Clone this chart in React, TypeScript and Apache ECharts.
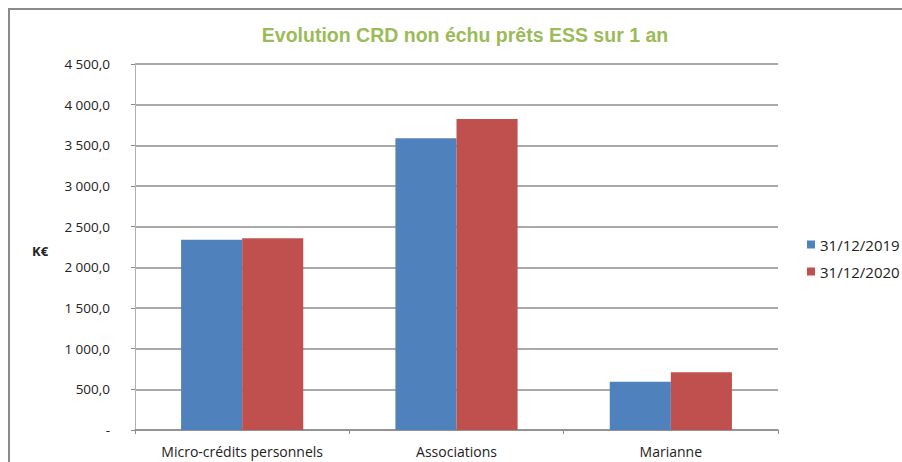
import React, { useEffect, useRef } from "react";
import * as echarts from "echarts";

const categories = ["Micro-crédits personnels", "Associations", "Marianne"];
const seriesNames = ["31/12/2019", "31/12/2020"];
const values2019 = [2340, 3588, 592];
const values2020 = [2358, 3824, 711];
const titleText = "Evolution CRD non échu prêts ESS sur 1 an";
const unitLabel = "K€";

function fmt(v: number): string {
  if (v === 0) return "-";
  const s = v.toFixed(1).replace(".", ",");
  const [i, d] = s.split(",");
  const withSp = i.replace(/\B(?=(\d{3})+(?!\d))/g, " ");
  return withSp + "," + d;
}

export default function App() {
  const ref = useRef<HTMLDivElement>(null);
  useEffect(() => {
    if (!ref.current) return;
    const chart = echarts.init(ref.current, undefined, { renderer: "svg" });
    const font = "'Open Sans', 'Liberation Sans', sans-serif";
    chart.setOption({
      animation: false,
      backgroundColor: "#ffffff",
      title: {
        text: titleText,
        left: 460,
        top: 20,
        textAlign: "center",
        textStyle: {
          color: "#9BBB59",
          fontSize: 19.5,
          fontWeight: "bold",
          fontFamily: "'Liberation Sans', Arial, sans-serif",
        },
      },
      legend: {
        orient: "vertical",
        left: 802,
        top: 232,
        itemWidth: 8,
        itemHeight: 8,
        itemGap: 12,
        icon: "rect",
        textStyle: { fontSize: 15, color: "#222", fontFamily: font },
        data: seriesNames,
      },
      grid: { left: 135, right: 124, top: 64, bottom: 32 },
      xAxis: {
        type: "category",
        data: categories,
        axisLine: { lineStyle: { color: "#8c8c8c", width: 1.5 } },
        axisTick: { show: true, length: 4, lineStyle: { color: "#8c8c8c" } },
        axisLabel: { color: "#222", fontSize: 14, margin: 14, fontFamily: font },
      },
      yAxis: {
        type: "value",
        min: 0,
        max: 4500,
        interval: 500,
        axisLine: { show: true, lineStyle: { color: "#b0b0b0", width: 1 } },
        axisTick: { show: true, length: 4, lineStyle: { color: "#8c8c8c" } },
        axisLabel: {
          color: "#222",
          fontSize: 13.5,
          margin: 25,
          fontFamily: font,
          formatter: (v: number) => fmt(v),
        },
        splitLine: { lineStyle: { color: "#8c8c8c", width: 1.5 } },
      },
      series: [
        {
          name: seriesNames[0],
          type: "bar",
          data: values2019,
          barGap: "0%",
          barCategoryGap: "43%",
          itemStyle: { color: "#4F81BD" },
        },
        {
          name: seriesNames[1],
          type: "bar",
          data: values2020,
          barGap: "0%",
          barCategoryGap: "43%",
          itemStyle: { color: "#C0504D" },
        },
      ],
      graphic: [
        {
          type: "rect",
          shape: { x: 9, y: 9, width: 1000, height: 600 },
          style: { fill: "none", stroke: "#8a8a8a", lineWidth: 2 },
          silent: true,
        },
        {
          type: "text",
          left: 32,
          top: 244,
          style: {
            text: unitLabel,
            fontSize: 13,
            fontWeight: "bold",
            fill: "#222",
            fontFamily: font,
          },
        },
      ],
    });
    return () => chart.dispose();
  }, []);
  return (
    <div
      ref={ref}
      style={{ position: "fixed", left: 0, top: 0, width: 902, height: 462 }}
    />
  );
}
